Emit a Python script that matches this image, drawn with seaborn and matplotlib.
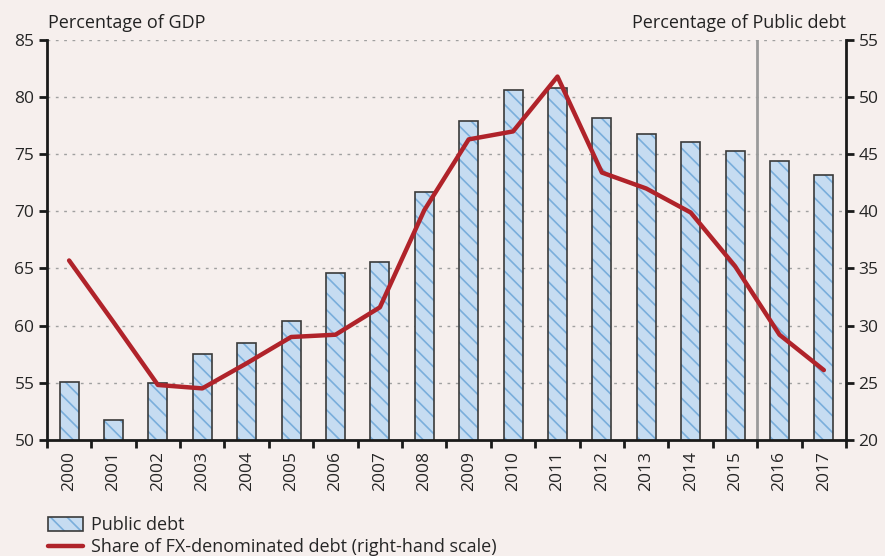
import numpy as np
import pandas as pd
import seaborn as sns
import matplotlib.pyplot as plt
from matplotlib.patches import Patch
from matplotlib.lines import Line2D

# Chart data
years = [str(y) for y in range(2000, 2018)]
public_debt = [55.1, 51.7, 55.0, 57.5, 58.5, 60.4, 64.6, 65.6, 71.7,
               77.9, 80.6, 80.8, 78.2, 76.8, 76.1, 75.3, 74.4, 73.2]
fx_share = [35.7, 30.3, 24.8, 24.5, 26.7, 29.0, 29.2, 31.6, 40.1,
            46.3, 47.0, 51.8, 43.4, 42.0, 39.9, 35.2, 29.2, 26.1]

df = pd.DataFrame({'Year': years, 'Debt': public_debt, 'FX': fx_share})

bg = '#F6EFED'
face = '#C6DCF1'
hatch_col = '#7AAEDB'
edge = '#3A3A3A'
red = '#B0232A'

sns.set_theme(style='white')
plt.rcParams['font.family'] = ['Open Sans', 'DejaVu Sans']
plt.rcParams['hatch.linewidth'] = 1.2

fig, ax = plt.subplots(figsize=(8.85, 5.56), dpi=100)
fig.patch.set_facecolor(bg)
ax.set_facecolor(bg)
fig.subplots_adjust(left=0.053, right=0.956, top=0.928, bottom=0.209)

# Bars: hatched fill layer, then a dark outline layer on top
sns.barplot(data=df, x='Year', y='Debt', ax=ax, color=face, width=0.43,
            edgecolor=hatch_col, hatch='\\\\', linewidth=0, saturation=1)
sns.barplot(data=df, x='Year', y='Debt', ax=ax, fill=False, width=0.43,
            edgecolor=edge, linewidth=1.2)

ax.set_ylim(50, 85)
ax.set_xlim(-0.5, len(years) - 0.5)
ax.set_yticks(range(50, 86, 5))
ax.yaxis.grid(True, linestyle=(0, (2, 4)), color='#A0A0A0', linewidth=1)
ax.set_axisbelow(True)

# Category boundary ticks, labels centred
ax.set_xticks(np.arange(-0.5, len(years), 1.0))
ax.set_xticklabels([])
ax.set_xticks(np.arange(len(years)), minor=True)
ax.set_xticklabels(years, minor=True, rotation=90, fontsize=12.5)
ax.tick_params(axis='x', which='major', direction='out', length=6, width=2, color='#1A1A1A', bottom=True)
ax.tick_params(axis='x', which='minor', length=0, pad=8)
ax.tick_params(axis='y', direction='out', length=6, width=2, color='#1A1A1A', left=True, labelsize=12.5, pad=3)
ax.set_xlabel('')
ax.set_ylabel('')

for side in ['top', 'right']:
    ax.spines[side].set_visible(False)
for side in ['left', 'bottom']:
    ax.spines[side].set_linewidth(2)
    ax.spines[side].set_color('#1A1A1A')

# Forecast divider
ax.axvline(15.5, color='#9A9A9A', linewidth=2, zorder=1)

# Right-hand axis line
ax2 = ax.twinx()
sns.lineplot(x=np.arange(len(years)), y=df['FX'], ax=ax2, color=red, linewidth=3.2)
ax2.set_ylim(20, 55)
ax2.set_yticks(range(20, 56, 5))
ax2.set_ylabel('')
ax2.grid(False)
ax2.tick_params(axis='y', direction='out', length=6, width=2, color='#1A1A1A', right=True, labelsize=12.5, pad=3)
for side in ['top', 'left', 'bottom']:
    ax2.spines[side].set_visible(False)
ax2.spines['right'].set_linewidth(2)
ax2.spines['right'].set_color('#1A1A1A')

fig.text(0.054, 0.943, 'Percentage of GDP', fontsize=13, ha='left', va='bottom', color='#222222')
fig.text(0.956, 0.943, 'Percentage of Public debt', fontsize=13, ha='right', va='bottom', color='#222222')

bar_handle = (Patch(facecolor=face, edgecolor=hatch_col, hatch='\\\\', linewidth=0),
              Patch(facecolor='none', edgecolor=edge, linewidth=1.2))
line_handle = Line2D([0], [0], color=red, linewidth=3.2)
fig.legend([bar_handle, line_handle],
           ['Public debt', 'Share of FX-denominated debt (right-hand scale)'],
           loc='lower left', bbox_to_anchor=(0.036, -0.03), frameon=False,
           fontsize=13, handlelength=1.95, handleheight=0.8, labelspacing=0.25,
           handletextpad=0.45)

plt.savefig('out.png', dpi=100, facecolor=bg)
plt.close()
